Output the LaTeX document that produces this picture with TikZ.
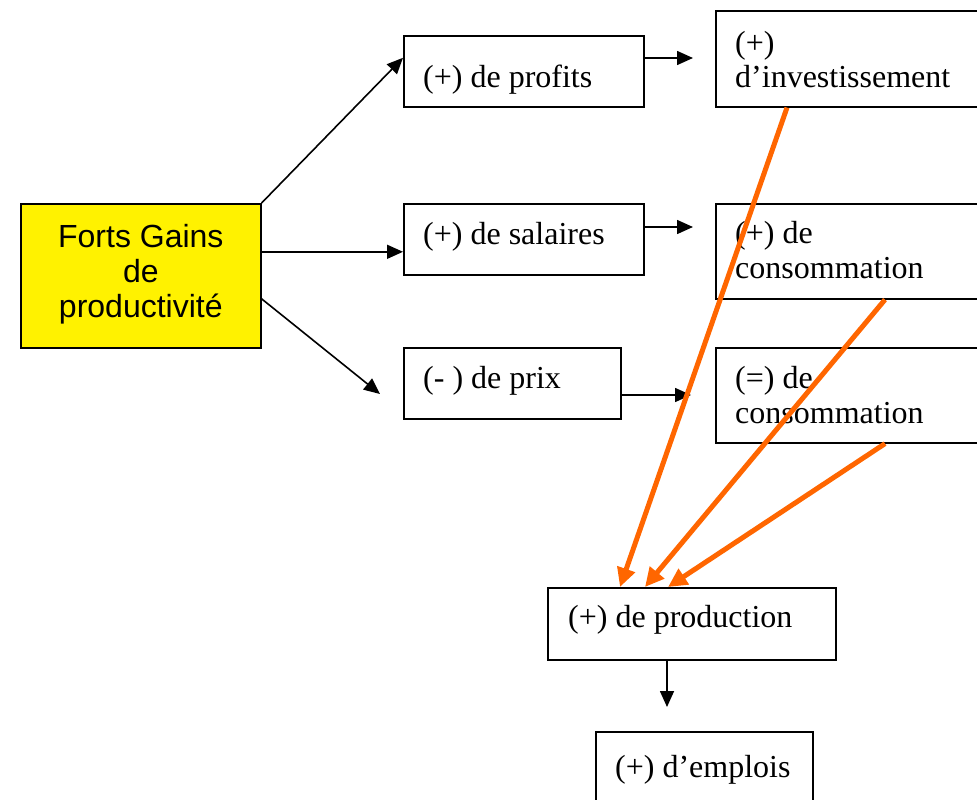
\documentclass[tikz,border=0pt]{standalone}
\usepackage{fontspec}
\setmainfont{Liberation Serif}
\newfontfamily\gainfont{Liberation Sans}
\usetikzlibrary{arrows.meta}
\definecolor{hotorange}{RGB}{255,102,0}

\begin{document}
\begin{tikzpicture}[x=1pt,y=-1pt,
    box/.style={draw, line width=1.6pt, anchor=north west, inner sep=0pt},
    txt/.style={anchor=base west, inner sep=0pt, align=left,
        font=\fontsize{32}{35}\selectfont},
    link/.style={line width=1.6pt, -{Triangle[length=16pt,width=14pt]}},
    hot/.style={draw=hotorange, line width=5pt,
        -{Triangle[length=19pt,width=18pt]}}]
    \useasboundingbox (0,0) rectangle (977,800);
    \clip (0,0) rectangle (977,800);

    % Gains
    \node[box, fill=yellow, minimum width=240, minimum height=144, align=center,
        font=\gainfont\fontsize{32}{35}\selectfont] (gain) at (20,203)
        {Forts Gains\\de\\productivit\'e\rule[-10pt]{0pt}{0pt}};

    % Row 1
    \node[box, minimum width=240, minimum height=71] (profits) at (403,35) {};
    \node[txt] (profitstxt) at (423,87) {(+) de profits};
    \node[box, minimum width=280, minimum height=96] (invest) at (715,10) {};
    \node[txt] (investtxt) at (735,88) {(+)\\d'investissement};

    % Row 2
    \node[box, minimum width=240, minimum height=71] (salaires) at (403,203) {};
    \node[txt] (salairestxt) at (423,244) {(+) de salaires};
    \node[box, minimum width=280, minimum height=95] (consplus) at (715,203) {};
    \node[txt] (consplustxt) at (735,278) {(+) de\\consommation};

    % Row 3
    \node[box, minimum width=217, minimum height=71] (prix) at (403,347) {};
    \node[txt] (prixtxt) at (423,388) {(- ) de prix};
    \node[box, minimum width=280, minimum height=95] (consegal) at (715,347) {};
    \node[txt] (consegaltxt) at (735,423) {(=) de\\consommation};

    % Bottom
    \node[box, minimum width=288, minimum height=72] (production) at (547,587) {};
    \node[txt] (productiontxt) at (568,627) {(+) de production};
    \node[box, minimum width=217, minimum height=100] (emplois) at (595,731) {};
    \node[txt] (emploistxt) at (615,777) {(+) d'emplois};

    % free ends
    \coordinate (prixin) at (380,394);
    \coordinate (profitsout) at (693,58);
    \coordinate (salairesout) at (693,227);
    \coordinate (prixout) at (691,395);
    \coordinate (productionout) at (667,707);

    % black arrows
    \draw[link] (gain.north east) -- ([yshift=13.5]profits.west);
    \draw[link] ([yshift=24]gain.east) -- ([yshift=24]gain.east -| salaires.west);
    \draw[link] ([yshift=-23]gain.east) -- (prixin);
    \draw[link] (profits.east |- profitsout) -- (profitsout);
    \draw[link] (salaires.east |- salairesout) -- (salairesout);
    \draw[link] (prix.east |- prixout) -- (prixout);
    \draw[link] (production.south -| productionout) -- (productionout);

    % orange arrows
    \draw[hot] ([xshift=72]invest.south west) -- ([xshift=73]production.north west);
    \draw[hot] ([xshift=170]consplus.south west) -- ([xshift=98]production.north west);
    \draw[hot] ([xshift=170]consegal.south west) -- ([xshift=121]production.north west);
\end{tikzpicture}
\end{document}
